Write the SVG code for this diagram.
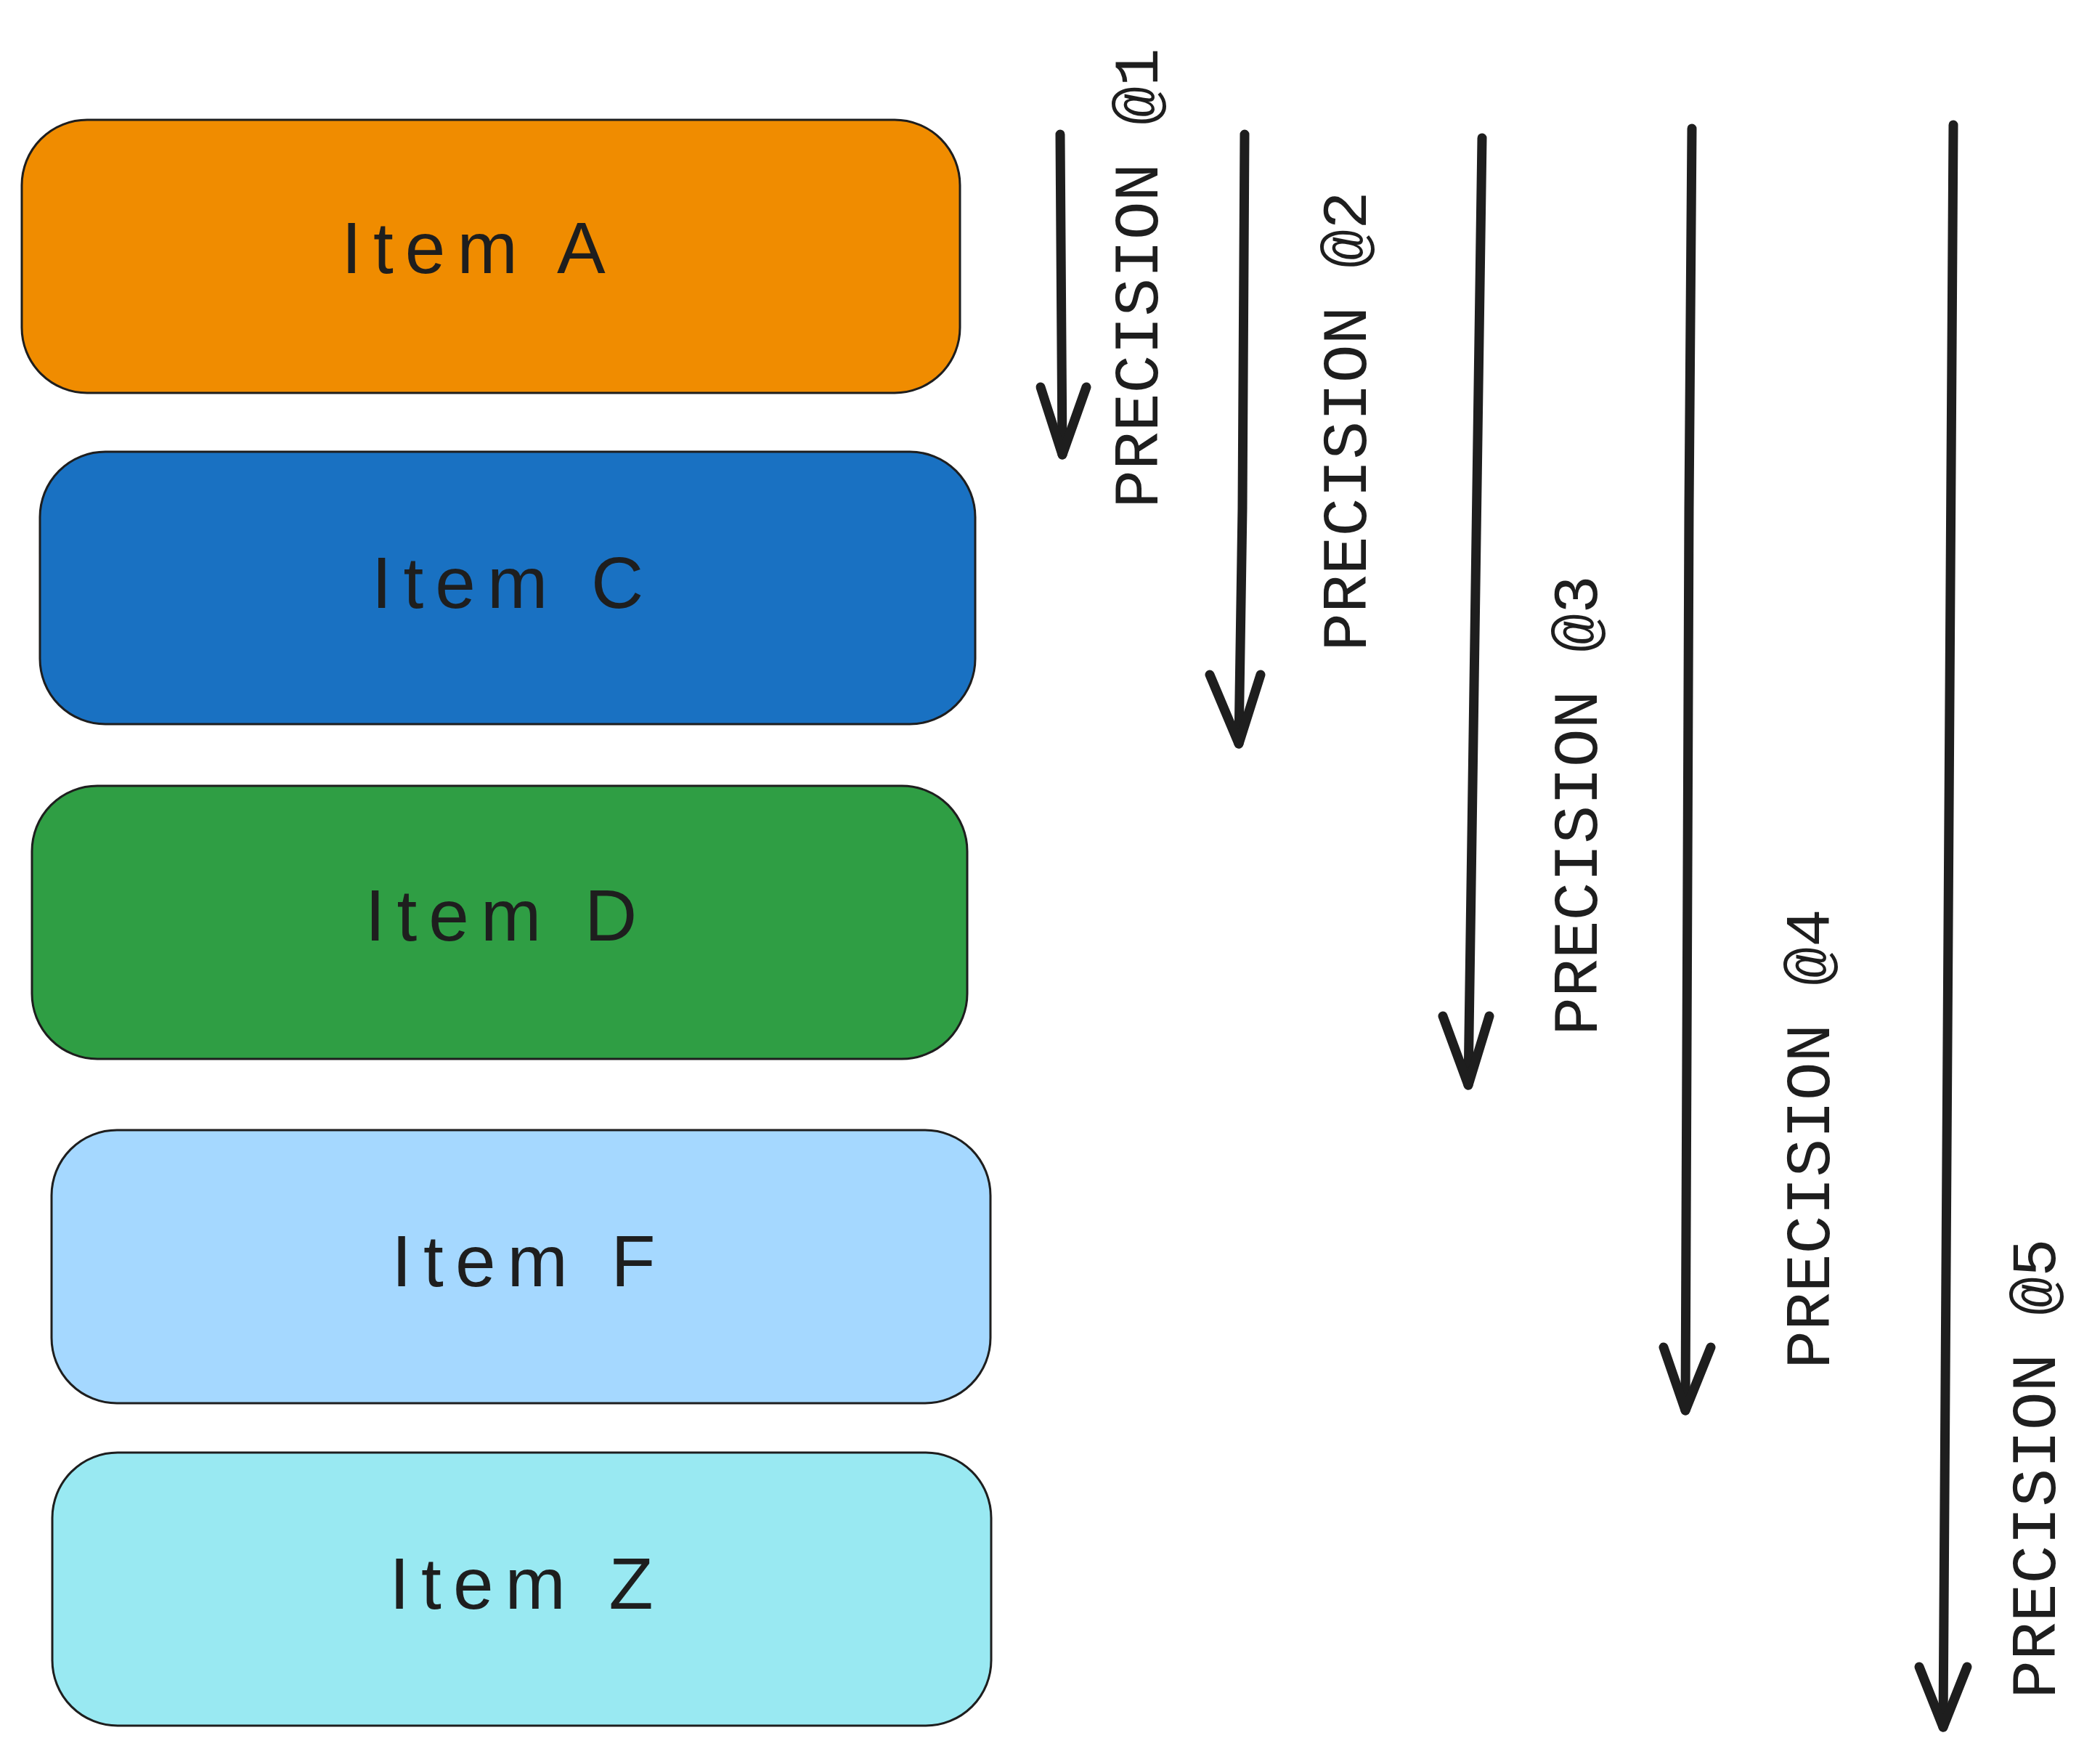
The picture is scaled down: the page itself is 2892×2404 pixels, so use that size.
<svg xmlns="http://www.w3.org/2000/svg" width="2892" height="2404" viewBox="0 0 2892 2404">
  <style>
    .box { stroke: #1e1e1e; stroke-width: 3; }
    .item { font-family: "Liberation Sans", Arial, sans-serif; font-size: 100px; fill: #1e1e1e; text-anchor: middle; letter-spacing: 16px; }
    .lbl { font-family: "Liberation Mono", "Courier New", monospace; font-size: 88px; fill: #1e1e1e; text-anchor: middle; }
    .shaft { fill: none; stroke: #1e1e1e; stroke-width: 13; stroke-linecap: round; stroke-linejoin: round; }
  </style>
  <rect width="2892" height="2404" fill="#ffffff"/>

  <g id="item-a">
    <rect class="box" x="30" y="165" width="1292" height="376" rx="90" ry="90" fill="#f08c00"/>
    <text class="item" x="660" y="376">Item A</text>
  </g>
  <g id="item-c">
    <rect class="box" x="55" y="622" width="1288" height="375" rx="90" ry="90" fill="#1971c2"/>
    <text class="item" x="707" y="837">Item C</text>
  </g>
  <g id="item-d">
    <rect class="box" x="44" y="1082" width="1288" height="376" rx="90" ry="90" fill="#2f9e44"/>
    <text class="item" x="698" y="1295">Item D</text>
  </g>
  <g id="item-f">
    <rect class="box" x="71" y="1556" width="1293" height="376" rx="90" ry="90" fill="#a5d8ff"/>
    <text class="item" x="729" y="1771">Item F</text>
  </g>
  <g id="item-z">
    <rect class="box" x="72" y="2000" width="1293" height="376" rx="90" ry="90" fill="#99e9f2"/>
    <text class="item" x="726" y="2215">Item Z</text>
  </g>

  <g id="connectors">
    <path class="shaft" d="M1460 185 L1463 626"/>
    <path class="shaft" d="M1433 533 L1463 626 L1496 533"/>

    <path class="shaft" d="M1714 185 L1711 700 L1706 1024"/>
    <path class="shaft" d="M1666 929 L1706 1024 L1736 929"/>

    <path class="shaft" d="M2041 190 L2022 1494"/>
    <path class="shaft" d="M1987 1399 L2022 1494 L2051 1399"/>

    <path class="shaft" d="M2330 177 L2326 700 L2321 1942"/>
    <path class="shaft" d="M2291 1855 L2321 1942 L2356 1855"/>

    <path class="shaft" d="M2690 172 L2676 2378"/>
    <path class="shaft" d="M2643 2295 L2676 2378 L2709 2295"/>
  </g>

  <g id="label-p1">
    <text class="lbl" transform="translate(1594 383) rotate(-90)">PRECISION @1</text>
  </g>
  <g id="label-p2">
    <text class="lbl" transform="translate(1881 580) rotate(-90)">PRECISION @2</text>
  </g>
  <g id="label-p3">
    <text class="lbl" transform="translate(2199 1109) rotate(-90)">PRECISION @3</text>
  </g>
  <g id="label-p4">
    <text class="lbl" transform="translate(2519 1568) rotate(-90)">PRECISION @4</text>
  </g>
  <g id="label-p5">
    <text class="lbl" transform="translate(2830 2022) rotate(-90)">PRECISION @5</text>
  </g>
</svg>
